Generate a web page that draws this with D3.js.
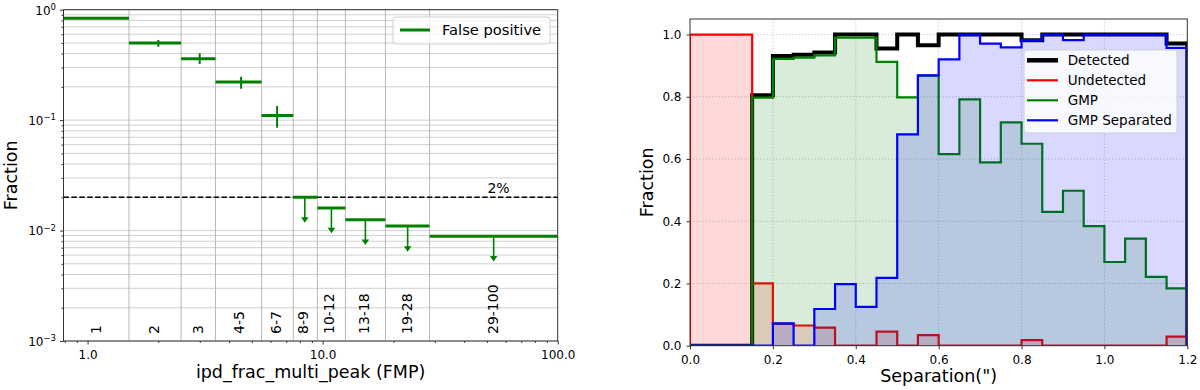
<!DOCTYPE html>
<html><head><meta charset="utf-8">
<script src="https://cdn.jsdelivr.net/npm/d3@7"></script>
<style>
body{margin:0;background:#fff}
svg{display:block}
text{font-family:"DejaVu Sans",sans-serif;fill:#000}
</style>
</head><body>
<svg id="c" width="1200" height="390"></svg>
<script>
// ---------------- LEFT PANEL DATA ----------------
const fpLabels = ["1","2","3","4-5","6-7","8-9","10-12","13-18","19-28","29-100"];
const fpBinLo  = [0.5, 1.5, 2.5, 3.5, 5.5, 7.5, 9.5, 12.5, 18.5, 28.5];
const fpBinHi  = [1.5, 2.5, 3.5, 5.5, 7.5, 9.5, 12.5, 18.5, 28.5, 100];
const fpCenter = [1, 2, 3, 4.5, 6.4, 8.4, 10.9, 15.2, 23, 53.4];
const fpValue  = [0.836, 0.5, 0.36, 0.221, 0.11, 0.02, 0.016, 0.0125, 0.011, 0.0089];
const fpErrLow = [0.836, 0.462, 0.322, 0.192, 0.0853, 0.0118, 0.00944, 0.0074, 0.00643, 0.00526];
const fpErrHigh= [0.836, 0.531, 0.403, 0.247, 0.134, 0.02, 0.016, 0.0125, 0.011, 0.0089];
const fpUpperLimit = [false,false,false,false,false,true,true,true,true,true];
const fpLabelX = [1.09, 1.915, 2.94, 4.4, 6.33, 8.22, 10.6, 15.0, 22.8, 52.9];
const thresholdValue = 0.02;
const thresholdLabel = "2%";
const leftXTicks = [1, 10, 100];
const leftYTicks = [1e-3, 1e-2, 1e-1, 1];
const leftYTickExp = ["−3","−2","−1","0"];

// ---------------- RIGHT PANEL DATA ----------------
const sepEdges = [0,0.05,0.1,0.15,0.2,0.25,0.3,0.35,0.4,0.45,0.5,0.55,0.6,0.65,0.7,0.75,0.8,0.85,0.9,0.95,1.0,1.05,1.1,1.15,1.2];
const detected   = [0,0,0,0.805,0.931,0.935,0.942,1.0,1.0,0.955,1.0,0.966,1.0,1.0,1.0,1.0,0.982,1.0,1.0,1.0,1.0,1.0,1.0,0.971];
const undetected = [1,1,1,0.2,0.07,0.065,0.058,0,0,0.045,0,0.034,0,0,0,0,0.018,0,0,0,0,0,0,0.029];
const gmp        = [0,0,0,0.797,0.922,0.926,0.933,0.99,0.99,0.912,0.798,0.868,0.616,0.792,0.589,0.718,0.649,0.43,0.498,0.384,0.269,0.344,0.221,0.184];
const gmpSep     = [0,0,0,0,0.072,0,0.118,0.198,0.125,0.218,0.679,0.869,0.92,1.0,0.971,0.959,0.982,1.0,0.982,1.0,1.0,1.0,1.0,0.957];
const rightXTicks = [0,0.2,0.4,0.6,0.8,1.0,1.2];
const rightYTicks = [0,0.2,0.4,0.6,0.8,1.0];
const seriesNames = ["Detected","Undetected","GMP","GMP Separated"];

const svg = d3.select("#c");
const FS_TICK = 12, FS_LAB = 17.5;

// ================= LEFT =================
const L = {l:63.5, r:557.7, t:9.7, b:341};
const xL = d3.scaleLog().domain([0.79,100]).range([L.l,L.r]);
const yL = d3.scaleLog().domain([1e-3,1]).range([L.b,L.t]);
const gL = svg.append("g");
gL.append("clipPath").attr("id","clipL").append("rect")
  .attr("x",L.l).attr("y",L.t).attr("width",L.r-L.l).attr("height",L.b-L.t);

// horizontal grid (major+minor)
gL.append("g").selectAll("line").data(yL.ticks()).join("line")
  .attr("x1",L.l).attr("x2",L.r).attr("y1",d=>yL(d)).attr("y2",d=>yL(d))
  .attr("stroke","#d0d0d0").attr("stroke-width",1);
// vertical grid at bin edges
gL.append("g").selectAll("line").data(fpBinHi.slice(0,-1)).join("line")
  .attr("y1",L.t).attr("y2",L.b).attr("x1",d=>xL(d)).attr("x2",d=>xL(d))
  .attr("stroke","#b8b8b8").attr("stroke-width",1);

// threshold dashed
gL.append("line").attr("x1",L.l).attr("x2",L.r)
  .attr("y1",yL(thresholdValue)).attr("y2",yL(thresholdValue))
  .attr("stroke","#000").attr("stroke-width",1.5).attr("stroke-dasharray","5.5,2.4");
gL.append("text").attr("x",xL(56)).attr("y",yL(thresholdValue)-4)
  .attr("text-anchor","middle").attr("font-size",14).text(thresholdLabel);

// bin labels (rotated)
gL.append("g").selectAll("text").data(fpLabels).join("text")
  .attr("transform",(d,i)=>`translate(${xL(fpLabelX[i])+5},334) rotate(-90)`)
  .attr("font-size",14).text(d=>d);

// data marks
const gm = gL.append("g").attr("clip-path","url(#clipL)");
const G = "#008000";
fpValue.forEach((v,i)=>{
  gm.append("line").attr("x1",xL(fpBinLo[i])).attr("x2",xL(fpBinHi[i]))
    .attr("y1",yL(v)).attr("y2",yL(v)).attr("stroke",G).attr("stroke-width",3);
  const cx = xL(fpCenter[i]);
  if (fpUpperLimit[i]) {
    const tip = yL(fpErrLow[i]);
    gm.append("line").attr("x1",cx).attr("x2",cx).attr("y1",yL(v)).attr("y2",tip-3)
      .attr("stroke",G).attr("stroke-width",1.6);
    gm.append("path").attr("d",`M${cx-3.8},${tip-5.5}L${cx+3.8},${tip-5.5}L${cx},${tip}Z`).attr("fill",G);
  } else if (fpErrHigh[i] !== fpErrLow[i]) {
    gm.append("line").attr("x1",cx).attr("x2",cx).attr("y1",yL(fpErrHigh[i])).attr("y2",yL(fpErrLow[i]))
      .attr("stroke",G).attr("stroke-width",2);
  }
});

// axes
function styleAxis(g){ g.select(".domain").remove(); g.selectAll(".tick line").attr("stroke","#333"); g.selectAll("text").attr("font-family","DejaVu Sans").attr("fill","#000"); }
gL.append("g").attr("transform",`translate(0,${L.b})`)
  .call(d3.axisBottom(xL).tickValues(xL.ticks().filter(d=>leftXTicks.indexOf(d)<0)).tickSize(2).tickFormat("")).call(styleAxis);
gL.append("g").attr("transform",`translate(0,${L.b})`)
  .call(d3.axisBottom(xL).tickValues(leftXTicks).tickSize(3.5).tickPadding(6).tickFormat(d3.format(".1f")))
  .call(styleAxis).selectAll("text").attr("font-size",FS_TICK);
gL.append("g").attr("transform",`translate(${L.l},0)`)
  .call(d3.axisLeft(yL).tickValues(yL.ticks().filter(d=>leftYTicks.indexOf(d)<0)).tickSize(2).tickFormat("")).call(styleAxis);
const yAx = gL.append("g").attr("transform",`translate(${L.l},0)`)
  .call(d3.axisLeft(yL).tickValues(leftYTicks).tickSize(3.5).tickPadding(4).tickFormat(""))
  .call(styleAxis);
yAx.selectAll(".tick text").each(function(d,i){
  const t = d3.select(this).attr("font-size",FS_TICK).attr("dy","0.36em");
  t.append("tspan").text("10");
  t.append("tspan").attr("dy","-0.55em").attr("font-size",8.5).text(leftYTickExp[leftYTicks.indexOf(d)]);
});
// spines
gL.append("rect").attr("x",L.l).attr("y",L.t).attr("width",L.r-L.l).attr("height",L.b-L.t)
  .attr("fill","none").attr("stroke","#333").attr("stroke-width",1);

// legend left
const lgL = gL.append("g");
lgL.append("rect").attr("x",393).attr("y",17).attr("width",157).attr("height",27).attr("rx",3)
  .attr("fill","#fff").attr("fill-opacity",0.8).attr("stroke","#d0d0d0");
lgL.append("line").attr("x1",400).attr("x2",430).attr("y1",30).attr("y2",30).attr("stroke",G).attr("stroke-width",3);
lgL.append("text").attr("x",442).attr("y",35).attr("font-size",14.7).text("False positive");

// axis labels
gL.append("text").attr("transform",`translate(17.3,${(L.t+L.b)/2}) rotate(-90)`)
  .attr("text-anchor","middle").attr("font-size",FS_LAB).text("Fraction");
gL.append("text").attr("x",(L.l+L.r)/2).attr("y",377.5).attr("text-anchor","middle")
  .attr("font-size",FS_LAB).text("ipd_frac_multi_peak (FMP)");

// ================= RIGHT =================
const R = {l:690, r:1187.3, t:19, b:345.7};
const xR = d3.scaleLinear().domain([0,1.2]).range([R.l,R.r]);
const yR = d3.scaleLinear().domain([0,1.05]).range([R.b,R.t]);
const gR = svg.append("g");
gR.append("clipPath").attr("id","clipR").append("rect")
  .attr("x",R.l).attr("y",R.t).attr("width",R.r-R.l).attr("height",R.b-R.t);

// dotted grid
gR.append("g").selectAll("line").data(rightXTicks.slice(1,-1)).join("line")
  .attr("x1",d=>xR(d)).attr("x2",d=>xR(d)).attr("y1",R.t).attr("y2",R.b)
  .attr("stroke","#c8c8c8").attr("stroke-width",1).attr("stroke-dasharray","1.2,2");
gR.append("g").selectAll("line").data(rightYTicks.slice(1)).join("line")
  .attr("y1",d=>yR(d)).attr("y2",d=>yR(d)).attr("x1",R.l).attr("x2",R.r)
  .attr("stroke","#c8c8c8").attr("stroke-width",1).attr("stroke-dasharray","1.2,2");

function stepPts(vals){
  const p = [[sepEdges[0],0]];
  vals.forEach((v,i)=>{ p.push([sepEdges[i],v]); p.push([sepEdges[i+1],v]); });
  p.push([sepEdges[sepEdges.length-1],0]);
  return p;
}
const lineGen = d3.line().x(d=>xR(d[0])).y(d=>yR(d[1]));
const areaGen = d3.area().x(d=>xR(d[0])).y0(yR(0)).y1(d=>yR(d[1]));
const gs = gR.append("g").attr("clip-path","url(#clipR)");
const series = [
  {vals:detected, color:"#000000", w:4, fill:false},
  {vals:undetected, color:"#ff0000", w:2.2, fill:true},
  {vals:gmp, color:"#008000", w:2.2, fill:true},
  {vals:gmpSep, color:"#0000ff", w:2.2, fill:true}
];
series.forEach(s=>{
  const pts = stepPts(s.vals);
  if (s.fill) gs.append("path").attr("d",areaGen(pts)).attr("fill",s.color).attr("fill-opacity",0.15);
  gs.append("path").attr("d",lineGen(pts)).attr("fill","none").attr("stroke",s.color)
    .attr("stroke-width",s.w).attr("stroke-linejoin","miter");
});

// axes
gR.append("g").attr("transform",`translate(0,${R.b})`)
  .call(d3.axisBottom(xR).tickValues(rightXTicks).tickSize(3.5).tickPadding(6).tickFormat(d3.format(".1f")))
  .call(styleAxis).selectAll("text").attr("font-size",FS_TICK);
gR.append("g").attr("transform",`translate(${R.l},0)`)
  .call(d3.axisLeft(yR).tickValues(rightYTicks).tickSize(3.5).tickPadding(5).tickFormat(d3.format(".1f")))
  .call(styleAxis).selectAll("text").attr("font-size",FS_TICK);
gR.append("rect").attr("x",R.l).attr("y",R.t).attr("width",R.r-R.l).attr("height",R.b-R.t)
  .attr("fill","none").attr("stroke","#333").attr("stroke-width",1);

// legend right
const lgR = gR.append("g");
lgR.append("rect").attr("x",1024).attr("y",50).attr("width",153).attr("height",83).attr("rx",3)
  .attr("fill","#fff").attr("fill-opacity",0.8).attr("stroke","#d0d0d0");
series.forEach((s,i)=>{
  const y = 60.3 + i*20;
  lgR.append("line").attr("x1",1027).attr("x2",1058).attr("y1",y).attr("y2",y)
    .attr("stroke",s.color).attr("stroke-width",s.w === 4 ? 4.5 : 2.2);
  lgR.append("text").attr("x",1067.7).attr("y",y+4.8).attr("font-size",13.5).text(seriesNames[i]);
});

gR.append("text").attr("transform",`translate(653.3,${(R.t+R.b)/2}) rotate(-90)`)
  .attr("text-anchor","middle").attr("font-size",FS_LAB).text("Fraction");
gR.append("text").attr("x",(R.l+R.r)/2).attr("y",381.5).attr("text-anchor","middle")
  .attr("font-size",FS_LAB).text("Separation(\")");
</script>
</body></html>
